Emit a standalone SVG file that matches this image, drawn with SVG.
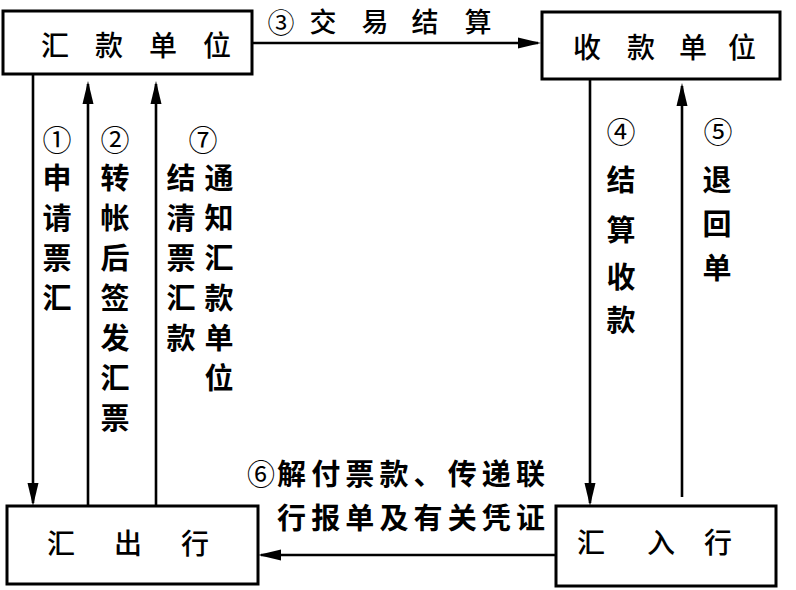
<svg xmlns="http://www.w3.org/2000/svg" width="796" height="590" viewBox="0 0 796 590">
  <style>
    .box { fill: #fff; stroke: #000; stroke-width: 3; }
    .name { font-family: "Noto Sans CJK SC", "Noto Sans", sans-serif; font-size: 28px; font-weight: 500; fill: #000; text-anchor: middle; }
    .lbl { font-family: "Noto Sans CJK SC", "Noto Sans", sans-serif; font-size: 29px; font-weight: 700; fill: #000; text-anchor: middle; }
    .num { font-family: "Noto Sans CJK SC", "DejaVu Sans", sans-serif; font-size: 29px; font-weight: 400; fill: #000; text-anchor: middle; }
    .line { fill: none; stroke: #000; stroke-width: 2.6; }
  </style>
  <defs>
    <marker id="arr" markerUnits="userSpaceOnUse" markerWidth="24" markerHeight="14" viewBox="0 0 24 14" refX="20" refY="7" orient="auto">
      <path d="M0,1.5 L23,7 L0,12.5 Z" fill="#000"/>
    </marker>
  </defs>
  <rect width="796" height="590" fill="#fff"/>

  <g id="connectors">
    <line class="line" x1="253" y1="43" x2="538" y2="43" marker-end="url(#arr)"/>
    <line class="line" x1="33" y1="74" x2="33" y2="503" marker-end="url(#arr)"/>
    <line class="line" x1="88" y1="506" x2="88" y2="84" marker-end="url(#arr)"/>
    <line class="line" x1="156" y1="506" x2="156" y2="84" marker-end="url(#arr)"/>
    <line class="line" x1="590" y1="79" x2="590" y2="503" marker-end="url(#arr)"/>
    <line class="line" x1="682" y1="497" x2="682" y2="86" marker-end="url(#arr)"/>
    <line class="line" x1="556" y1="555" x2="261" y2="555" marker-end="url(#arr)"/>

    <g id="label3">
      <text class="num" x="281" y="33" style="font-size:27px">③</text>
      <text class="lbl" x="323 375 425 478" y="32" style="font-size:27px;font-weight:500">交易结算</text>
    </g>
    <g id="label1">
      <text class="num" x="57" y="151">①</text>
      <text class="lbl" x="57 57 57 57" y="189 229 269 309">申请票汇</text>
    </g>
    <g id="label2">
      <text class="num" x="115" y="151">②</text>
      <text class="lbl" x="115 115 115 115 115 115 115" y="189 229 269 309 349 389 429">转帐后签发汇票</text>
    </g>
    <g id="label7">
      <text class="num" x="203" y="151">⑦</text>
      <text class="lbl" x="181 181 181 181 181" y="189 229 269 309 349">结清票汇款</text>
      <text class="lbl" x="219 219 219 219 219 219" y="189 229 269 309 349 389">通知汇款单位</text>
    </g>
    <g id="label4">
      <text class="num" x="621" y="143">④</text>
      <text class="lbl" x="621 621 621 621" y="191 241 288 331">结算收款</text>
    </g>
    <g id="label5">
      <text class="num" x="718" y="143">⑤</text>
      <text class="lbl" x="717 717 717" y="191 235 279">退回单</text>
    </g>
    <g id="label6">
      <text class="num" x="261" y="485" style="font-size:28px">⑥</text>
      <text class="lbl" x="277" y="485" style="text-anchor:start" textLength="268" lengthAdjust="spacing">解付票款、传递联</text>
      <text class="lbl" x="277" y="529" style="text-anchor:start" textLength="268" lengthAdjust="spacing">行报单及有关凭证</text>
    </g>
  </g>

  <g id="remitter">
    <rect class="box" x="3" y="11" width="249" height="63"/>
    <text class="name" x="55 109 163 217" y="56">汇款单位</text>
  </g>
  <g id="payee">
    <rect class="box" x="542" y="12" width="238" height="67"/>
    <text class="name" x="587 641 693 742" y="58">收款单位</text>
  </g>
  <g id="remitting-bank">
    <rect class="box" x="7" y="506" width="251" height="78"/>
    <text class="name" x="61 128 195" y="554">汇出行</text>
  </g>
  <g id="receiving-bank">
    <rect class="box" x="556" y="506" width="220" height="80"/>
    <text class="name" x="591 661 718" y="553">汇入行</text>
  </g>
</svg>
